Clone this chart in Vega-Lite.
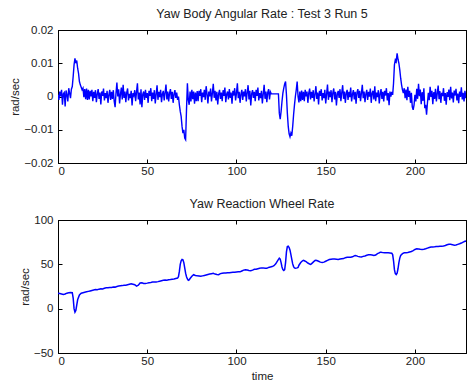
{
"$schema": "https://vega.github.io/schema/vega-lite/v6.json",
"background": "white",
"padding": {"left": 9, "top": 7, "right": 0, "bottom": 0},
"spacing": 20,
"config": {
  "view": {"stroke": "black", "strokeWidth": 1},
  "font": "Liberation Sans",
  "axis": {"grid": false, "domainColor": "black", "domainWidth": 1, "tickColor": "black", "tickSize": -4, "tickWidth": 1, "labelFont": "Liberation Sans", "labelFontSize": 11.5, "labelColor": "#222", "titleFont": "Liberation Sans", "titleFontSize": 11.5, "titleFontWeight": "normal", "titleColor": "#222", "titlePadding": 3},
  "axisY": {"labelPadding": 9},
  "axisX": {"labelPadding": 6},
  "title": {"font": "Liberation Sans", "fontSize": 12.5, "fontWeight": "normal", "color": "#222", "offset": 4}
},
"datasets": {
"body": [
{"t":0,"v":0.0005},{"t":0.5,"v":-0.001},{"t":1,"v":0.0015},{"t":1.5,"v":0},{"t":2,"v":0.002},{"t":2.5,"v":-0.0025},{"t":3,"v":0.0008},{"t":3.5,"v":0.0012},{"t":4,"v":-0.003},{"t":4.5,"v":0.0018},{"t":5,"v":0.0005},{"t":5.5,"v":-0.0015},{"t":6,"v":0.0025},{"t":6.5,"v":0.001},{"t":7,"v":-0.0005},{"t":7.5,"v":0.0022},{"t":8,"v":0.003},
{"t":8.5,"v":0.006},{"t":9,"v":0.0095},{"t":9.5,"v":0.0115},{"t":10,"v":0.01},{"t":10.5,"v":0.0108},{"t":11,"v":0.0085},{"t":11.5,"v":0.007},{"t":12,"v":0.0045},{"t":12.5,"v":0.0035},{"t":13,"v":0.0028},{"t":13.5,"v":0.002},{"t":14,"v":0.0025},{"t":14.5,"v":-0.0002},{"t":15,"v":0.0022},{"t":15.5,"v":-0.0008},{"t":16,"v":0.0024},{"t":16.5,"v":-0.001},{"t":17,"v":0.002},
{"t":17.5,"v":-0.0009},{"t":18,"v":0.0017},{"t":18.5,"v":0},{"t":19,"v":0.002},{"t":19.5,"v":-0.0014},{"t":20,"v":0.0014},{"t":20.5,"v":-0.0004},{"t":21,"v":0.0019},{"t":21.5,"v":-0.0017},{"t":22,"v":0.0007},{"t":22.5,"v":0.0022},{"t":23,"v":-0.0007},{"t":23.5,"v":0.0012},{"t":24,"v":-0.0024},{"t":24.5,"v":0.0015},{"t":25,"v":0.0002},{"t":25.5,"v":0.0024},{"t":26,"v":-0.0012},{"t":26.5,"v":0.001},{"t":27,"v":-0.0005},{"t":27.5,"v":0.0017},{"t":28,"v":-0.0019},{"t":28.5,"v":0.0005},{"t":29,"v":0.002},{"t":29.5,"v":-0.001},{"t":30,"v":0.0014},{"t":30.5,"v":-0.0007},{"t":31,"v":0.0019},{"t":31.5,"v":-0.0015},{"t":32,"v":-0.0032},{"t":32.5,"v":0.001},{"t":33,"v":0.0042},{"t":33.5,"v":0},{"t":34,"v":0.0022},{"t":34.5,"v":-0.0021},{"t":35,"v":0.0007},{"t":35.5,"v":0.0027},{"t":36,"v":-0.0009},{"t":36.5,"v":0.0035},{"t":37,"v":-0.0004},{"t":37.5,"v":0.0015},{"t":38,"v":-0.0017},{"t":38.5,"v":0.0012},{"t":39,"v":0.0024},{"t":39.5,"v":-0.0012},{"t":40,"v":0.0008},{"t":40.5,"v":-0.0005},{"t":41,"v":0.0017},{"t":41.5,"v":-0.0027},{"t":42,"v":0.001},{"t":42.5,"v":0.0003},{"t":43,"v":0.0019},{"t":43.5,"v":-0.0014},{"t":44,"v":0.0014},{"t":44.5,"v":0.004},{"t":45,"v":-0.0009},{"t":45.5,"v":0.0012},{"t":46,"v":-0.0024},{"t":46.5,"v":0.0022},{"t":47,"v":-0.0032},{"t":47.5,"v":0.0007},{"t":48,"v":0.0015},{"t":48.5,"v":-0.001},{"t":49,"v":0.002},{"t":49.5,"v":-0.0004},{"t":50,"v":0.001},{"t":50.5,"v":-0.0019},{"t":51,"v":0.0017},{"t":51.5,"v":0.0002},{"t":52,"v":0.0025},{"t":52.5,"v":-0.0014},{"t":53,"v":0.0012},{"t":53.5,"v":-0.0007},{"t":54,"v":0.0019},{"t":54.5,"v":-0.0021},{"t":55,"v":0.0007},{"t":55.5,"v":0.0034},{"t":56,"v":-0.001},{"t":56.5,"v":0.0014},{"t":57,"v":-0.0002},{"t":57.5,"v":0.002},{"t":58,"v":-0.0017},{"t":58.5,"v":0.0008},{"t":59,"v":0.0017},{"t":59.5,"v":-0.0012},{"t":60,"v":0.0012},{"t":60.5,"v":0.0036},{"t":61,"v":-0.0009},{"t":61.5,"v":0.0015},{"t":62,"v":-0.0015},{"t":62.5,"v":0.001},{"t":63,"v":0.0022},{"t":63.5,"v":-0.0007},{"t":64,"v":0.0014},{"t":64.5,"v":-0.0019},{"t":65,"v":0.0007},{"t":65.5,"v":0.0019},{"t":66,"v":-0.0004},{"t":66.5,"v":0.0012},{"t":67,"v":-0.001},
{"t":67.5,"v":0},{"t":68,"v":-0.0025},{"t":68.5,"v":-0.0045},{"t":69,"v":-0.006},{"t":69.5,"v":-0.009},{"t":70,"v":-0.011},{"t":70.5,"v":-0.01},{"t":71,"v":-0.0125},{"t":71.5,"v":-0.013},{"t":72,"v":-0.004},{"t":72.5,"v":0.004},{"t":73,"v":-0.001},{"t":73.5,"v":-0.0025},{"t":74,"v":0.0015},{"t":74.5,"v":-0.0015},{"t":75,"v":0.002},{"t":75.5,"v":-0.0008},{"t":76,"v":0.0015},{"t":76.5,"v":-0.0022},{"t":77,"v":0.0012},{"t":77.5,"v":-0.0014},{"t":78,"v":0.0016},
{"t":78.5,"v":-0.0014},{"t":79,"v":0.0017},{"t":79.5,"v":0.0002},{"t":80,"v":0.0022},{"t":80.5,"v":-0.0017},{"t":81,"v":0.0012},{"t":81.5,"v":-0.0002},{"t":82,"v":0.002},{"t":82.5,"v":-0.001},{"t":83,"v":0.0031},{"t":83.5,"v":0.0007},{"t":84,"v":-0.0021},{"t":84.5,"v":0.0015},{"t":85,"v":0},{"t":85.5,"v":0.0024},{"t":86,"v":-0.0015},{"t":86.5,"v":0.001},{"t":87,"v":0.0038},{"t":87.5,"v":-0.0004},{"t":88,"v":0.0017},{"t":88.5,"v":-0.0012},{"t":89,"v":0.0014},{"t":89.5,"v":-0.0024},{"t":90,"v":0.0008},{"t":90.5,"v":0.002},{"t":91,"v":-0.0007},{"t":91.5,"v":0.0012},{"t":92,"v":-0.0014},{"t":92.5,"v":0.0019},{"t":93,"v":0.0002},{"t":93.5,"v":0.0027},{"t":94,"v":-0.0017},{"t":94.5,"v":0.0007},{"t":95,"v":0.0015},{"t":95.5,"v":-0.0009},{"t":96,"v":0.0022},{"t":96.5,"v":-0.0004},{"t":97,"v":0.0012},{"t":97.5,"v":-0.0022},{"t":98,"v":0.0017},{"t":98.5,"v":0.0003},{"t":99,"v":0.0025},{"t":99.5,"v":-0.0012},{"t":100,"v":0.001},{"t":100.5,"v":0.004},{"t":101,"v":-0.0005},{"t":101.5,"v":0.0014},{"t":102,"v":-0.0019},{"t":102.5,"v":0.0007},{"t":103,"v":0.002},{"t":103.5,"v":-0.001},{"t":104,"v":0.0015},{"t":104.5,"v":0},{"t":105,"v":0.0022},{"t":105.5,"v":-0.0015},{"t":106,"v":0.0012},{"t":106.5,"v":0.0034},{"t":107,"v":-0.0009},{"t":107.5,"v":0.0017},{"t":108,"v":-0.0027},{"t":108.5,"v":0.0008},{"t":109,"v":0.0019},{"t":109.5,"v":-0.0004},{"t":110,"v":0.0014},{"t":110.5,"v":-0.0014},{"t":111,"v":0.002},{"t":111.5,"v":0.0002},{"t":112,"v":0.0027},{"t":112.5,"v":-0.0012},{"t":113,"v":0.001},{"t":113.5,"v":-0.0005},{"t":114,"v":0.0017},{"t":114.5,"v":-0.0021},{"t":115,"v":0.0008},{"t":115.5,"v":0.0035},{"t":116,"v":-0.0007},{"t":116.5,"v":0.0015},{"t":117,"v":-0.0017},{"t":117.5,"v":0.0012},{"t":118,"v":0.0022},{"t":118.5,"v":-0.0009},{"t":119,"v":0.0014},{"t":119.5,"v":0.0008},{"t":123.5,"v":0.0008},
{"t":124,"v":-0.005},{"t":124.5,"v":-0.0068},{"t":125,"v":-0.0045},{"t":125.5,"v":-0.0015},{"t":126,"v":0.001},{"t":126.5,"v":0.0025},{"t":127,"v":0.0038},{"t":127.5,"v":0.0045},{"t":128,"v":0.0005},{"t":128.5,"v":-0.005},{"t":129,"v":-0.009},{"t":129.5,"v":-0.0112},{"t":130,"v":-0.0121},{"t":130.5,"v":-0.011},{"t":131,"v":-0.0118},{"t":131.5,"v":-0.009},{"t":132,"v":-0.0055},{"t":132.5,"v":-0.0025},{"t":133,"v":0},{"t":133.5,"v":0.002},{"t":134,"v":0.0045},{"t":134.5,"v":0},{"t":135,"v":-0.0018},{"t":135.5,"v":0.0015},{"t":136,"v":-0.0014},{"t":136.5,"v":0.0018},{"t":137,"v":-0.001},{"t":137.5,"v":0.0014},
{"t":138,"v":-0.0014},{"t":138.5,"v":0.002},{"t":139,"v":0},{"t":139.5,"v":0.0015},{"t":140,"v":-0.0019},{"t":140.5,"v":0.001},{"t":141,"v":0.0024},{"t":141.5,"v":-0.0009},{"t":142,"v":0.0014},{"t":142.5,"v":-0.0004},{"t":143,"v":0.0019},{"t":143.5,"v":-0.0015},{"t":144,"v":0.0007},{"t":144.5,"v":0.0031},{"t":145,"v":-0.0007},{"t":145.5,"v":0.0012},{"t":146,"v":-0.0024},{"t":146.5,"v":0.0017},{"t":147,"v":0.0002},{"t":147.5,"v":0.0022},{"t":148,"v":-0.0012},{"t":148.5,"v":0.001},{"t":149,"v":-0.0005},{"t":149.5,"v":0.002},{"t":150,"v":-0.0021},{"t":150.5,"v":0.0008},{"t":151,"v":0.0036},{"t":151.5,"v":-0.001},{"t":152,"v":0.0015},{"t":152.5,"v":-0.0002},{"t":153,"v":0.0019},{"t":153.5,"v":-0.0017},{"t":154,"v":0.0012},{"t":154.5,"v":0.0024},{"t":155,"v":-0.0009},{"t":155.5,"v":0.0014},{"t":156,"v":-0.0027},{"t":156.5,"v":0.0008},{"t":157,"v":0.0017},{"t":157.5,"v":-0.0004},{"t":158,"v":0.0022},{"t":158.5,"v":-0.0014},{"t":159,"v":0.0012},{"t":159.5,"v":0.0034},{"t":160,"v":-0.0007},{"t":160.5,"v":0.0015},{"t":161,"v":-0.0019},{"t":161.5,"v":0.001},{"t":162,"v":0.002},{"t":162.5,"v":-0.001},{"t":163,"v":0.0014},{"t":163.5,"v":-0.0002},{"t":164,"v":0.0027},{"t":164.5,"v":-0.0015},{"t":165,"v":0.0007},{"t":165.5,"v":0.0019},{"t":166,"v":-0.0009},{"t":166.5,"v":0.0014},{"t":167,"v":-0.0022},{"t":167.5,"v":0.0012},{"t":168,"v":0.0022},{"t":168.5,"v":-0.0004},{"t":169,"v":0.0017},{"t":169.5,"v":-0.0014},{"t":170,"v":0.001},{"t":170.5,"v":0.0035},{"t":171,"v":-0.0005},{"t":171.5,"v":0.0015},{"t":172,"v":-0.0017},{"t":172.5,"v":0.0008},{"t":173,"v":0.002},{"t":173.5,"v":-0.001},{"t":174,"v":0.0014},{"t":174.5,"v":0},{"t":175,"v":0.0024},{"t":175.5,"v":-0.0019},{"t":176,"v":0.001},{"t":176.5,"v":0.0017},{"t":177,"v":-0.0009},{"t":177.5,"v":0.0031},{"t":178,"v":-0.0014},{"t":178.5,"v":0.0012},{"t":179,"v":-0.0002},{"t":179.5,"v":0.0019},{"t":180,"v":-0.0021},{"t":180.5,"v":0.0008},{"t":181,"v":0.0022},{"t":181.5,"v":-0.0007},{"t":182,"v":0.0014},{"t":182.5,"v":-0.0015},{"t":183,"v":0.0017},{"t":183.5,"v":0.0003},{"t":184,"v":0.0025},{"t":184.5,"v":-0.0012},{"t":185,"v":0.001},{"t":185.5,"v":-0.0026},{"t":186,"v":0.0015},{"t":186.5,"v":0},{"t":187,"v":0.0014},
{"t":187.5,"v":0.0005},{"t":188,"v":0.004},{"t":188.5,"v":0.0095},{"t":189,"v":0.011},{"t":189.5,"v":0.0105},{"t":190,"v":0.013},{"t":190.5,"v":0.0112},{"t":191,"v":0.01},{"t":191.5,"v":0.008},{"t":192,"v":0.0055},{"t":192.5,"v":0.0035},{"t":193,"v":0.002},{"t":193.5,"v":0.001},{"t":194,"v":0.0025},{"t":194.5,"v":-0.0005},
{"t":195,"v":0.0021},{"t":195.5,"v":-0.0011},{"t":196,"v":0.0029},{"t":196.5,"v":-0.0001},{"t":197,"v":0.0017},{"t":197.5,"v":-0.0019},{"t":198,"v":0.0011},{"t":198.5,"v":-0.0031},{"t":199,"v":-0.004},{"t":199.5,"v":-0.0025},{"t":200,"v":0.0005},{"t":200.5,"v":-0.0015},{"t":201,"v":0.0023},{"t":201.5,"v":-0.0007},{"t":202,"v":0.0038},{"t":202.5,"v":0.0001},{"t":203,"v":0.0021},{"t":203.5,"v":-0.0023},{"t":204,"v":0.0013},{"t":204.5,"v":-0.0013},{"t":205,"v":0.0025},{"t":205.5,"v":-0.0035},{"t":206,"v":-0.0025},{"t":206.5,"v":-0.0055},{"t":207,"v":-0.0019},{"t":207.5,"v":0.0011},{"t":208,"v":-0.0011},{"t":208.5,"v":0.0029},{"t":209,"v":-0.0001},{"t":209.5,"v":0.0017},{"t":210,"v":-0.0023},{"t":210.5,"v":0.0013},{"t":211,"v":-0.0007},{"t":211.5,"v":0.0023},{"t":212,"v":-0.0015},{"t":212.5,"v":0.0009},{"t":213,"v":0.0033},{"t":213.5,"v":-0.0008},{"t":214,"v":0.0016},{"t":214.5,"v":-0.0019},{"t":215,"v":0.0011},{"t":215.5,"v":0.0001},{"t":216,"v":0.0025},{"t":216.5,"v":-0.0013},{"t":217,"v":0.001},{"t":217.5,"v":-0.0025},{"t":218,"v":0.0013},{"t":218.5,"v":-0.0001},{"t":219,"v":0.0021},{"t":219.5,"v":-0.0011},{"t":220,"v":0.0029},{"t":220.5,"v":-0.0006},{"t":221,"v":0.0012},{"t":221.5,"v":-0.0018},{"t":222,"v":0.0018},{"t":222.5,"v":0.0003},{"t":223,"v":0.0023},{"t":223.5,"v":-0.0012},{"t":224,"v":0.0009},{"t":224.5,"v":-0.002},{"t":225,"v":0.0015},{"t":225.5,"v":-0.0001},{"t":226,"v":0.0028},{"t":226.5,"v":-0.0009},{"t":227,"v":0.0011},{"t":227.5,"v":-0.0015},{"t":228,"v":0.0017},{"t":228.5,"v":-0.0005},{"t":229,"v":0.0013},{"t":229.5,"v":-0.0013},{"t":230,"v":0.0006}
],
"wheel": [
{"t":0,"v":17.5},{"t":1,"v":17},{"t":2,"v":16.5},{"t":3,"v":16},{"t":4,"v":16.5},{"t":5,"v":17.5},{"t":6,"v":18},{"t":7,"v":18.2},{"t":8,"v":18},{"t":8.5,"v":12},{"t":9,"v":0},{"t":9.5,"v":-4},{"t":10,"v":-2},{"t":10.5,"v":4},{"t":11,"v":10},{"t":12,"v":15.5},{"t":13,"v":17.5},{"t":14,"v":18},{"t":15,"v":18.5},{"t":16,"v":19},{"t":17,"v":19.5},{"t":18,"v":20},{"t":19,"v":20.5},{"t":20,"v":21},{"t":21,"v":21.5},{"t":22,"v":21.3},{"t":23,"v":22},{"t":24,"v":22.5},{"t":25,"v":22.2},{"t":26,"v":23},{"t":27,"v":23.5},{"t":28,"v":23.5},{"t":29,"v":23.8},{"t":30,"v":24},{"t":31,"v":24.5},{"t":32,"v":24.3},{"t":33,"v":25},{"t":34,"v":25.5},{"t":35,"v":25.8},{"t":36,"v":26},{"t":37,"v":26.5},{"t":38,"v":26.5},{"t":39,"v":27},{"t":40,"v":27.5},{"t":41,"v":28},{"t":42,"v":27.5},{"t":43,"v":27},{"t":44,"v":25.5},{"t":45,"v":26.5},{"t":46,"v":29},{"t":47,"v":29.3},{"t":48,"v":28.5},{"t":49,"v":28.5},{"t":50,"v":28.8},{"t":51,"v":29.3},{"t":52,"v":29.5},{"t":53,"v":30},{"t":54,"v":30.2},{"t":55,"v":30.2},{"t":56,"v":30.5},{"t":57,"v":31},{"t":58,"v":31.5},{"t":59,"v":32},{"t":60,"v":32.3},{"t":61,"v":32},{"t":62,"v":32.5},{"t":63,"v":32.8},{"t":64,"v":33.2},{"t":65,"v":33.5},{"t":66,"v":34},{"t":67,"v":34.5},{"t":67.5,"v":36},{"t":68,"v":42},{"t":68.5,"v":50},{"t":69,"v":54},{"t":69.5,"v":55.5},{"t":70,"v":55},{"t":70.5,"v":52},{"t":71,"v":46},{"t":71.5,"v":40},{"t":72,"v":36},{"t":72.5,"v":33.5},{"t":73,"v":32},{"t":73.5,"v":32.5},{"t":74,"v":34},{"t":75,"v":36.5},{"t":76,"v":38.3},{"t":77,"v":37.5},{"t":78,"v":37},{"t":79,"v":36.8},{"t":80,"v":36.5},{"t":81,"v":37},{"t":82,"v":37.5},{"t":83,"v":38},{"t":84,"v":38.5},{"t":85,"v":39},{"t":86,"v":39.4},{"t":87,"v":39.8},{"t":88,"v":39},{"t":89,"v":38.5},{"t":90,"v":38.3},{"t":91,"v":39.5},{"t":92,"v":40},{"t":93,"v":40.2},{"t":94,"v":40.2},{"t":95,"v":40.5},{"t":96,"v":40.5},{"t":97,"v":40.8},{"t":98,"v":41},{"t":99,"v":41},{"t":100,"v":41.3},{"t":101,"v":41.5},{"t":102,"v":41.5},{"t":103,"v":42.5},{"t":104,"v":43.5},{"t":105,"v":43.9},{"t":106,"v":43.5},{"t":107,"v":43},{"t":108,"v":42.7},{"t":109,"v":43.5},{"t":110,"v":44.4},{"t":111,"v":44.5},{"t":112,"v":45},{"t":113,"v":45.5},{"t":114,"v":46},{"t":115,"v":46},{"t":116,"v":45.5},{"t":117,"v":45.5},{"t":118,"v":46.5},{"t":119,"v":47},{"t":120,"v":47.5},{"t":121,"v":48.5},{"t":122,"v":50.5},{"t":123,"v":54},{"t":124,"v":57},{"t":124.5,"v":56},{"t":125,"v":52},{"t":125.5,"v":47},{"t":126,"v":44},{"t":126.5,"v":43},{"t":127,"v":44},{"t":127.5,"v":52},{"t":128,"v":64},{"t":128.5,"v":70},{"t":129,"v":70.5},{"t":129.5,"v":69},{"t":130,"v":66},{"t":130.5,"v":61},{"t":131,"v":55.5},{"t":131.5,"v":50.5},{"t":132,"v":47.5},{"t":132.5,"v":46},{"t":133,"v":45.5},{"t":134,"v":46},{"t":134.5,"v":46.5},{"t":135,"v":49},{"t":136,"v":52},{"t":137,"v":54},{"t":137.5,"v":54.5},{"t":138,"v":54},{"t":139,"v":53},{"t":140,"v":51.5},{"t":141,"v":50.3},{"t":141.5,"v":50},{"t":142,"v":50.5},{"t":143,"v":52.5},{"t":144,"v":54.3},{"t":144.5,"v":54.5},{"t":145,"v":54.3},{"t":146,"v":53.5},{"t":147,"v":52.5},{"t":148,"v":52},{"t":149,"v":52.5},{"t":150,"v":53.5},{"t":151,"v":54.5},{"t":152,"v":55.5},{"t":153,"v":55.8},{"t":154,"v":56},{"t":155,"v":56},{"t":156,"v":55.8},{"t":157,"v":55.5},{"t":158,"v":56},{"t":159,"v":56.3},{"t":160,"v":56.5},{"t":161,"v":57.5},{"t":162,"v":58},{"t":163,"v":58},{"t":164,"v":58},{"t":165,"v":58.5},{"t":166,"v":59.5},{"t":166.5,"v":60},{"t":167,"v":59.8},{"t":168,"v":59},{"t":169,"v":58.5},{"t":170,"v":58.3},{"t":171,"v":59},{"t":172,"v":59.5},{"t":173,"v":60.3},{"t":174,"v":60.8},{"t":175,"v":60.7},{"t":176,"v":60.5},{"t":177,"v":60},{"t":178,"v":60.5},{"t":179,"v":62},{"t":180,"v":63},{"t":180.5,"v":63.5},{"t":181,"v":63.5},{"t":182,"v":63.2},{"t":183,"v":63},{"t":184,"v":63},{"t":185,"v":63},{"t":186,"v":62.8},{"t":187,"v":62.5},{"t":187.5,"v":61},{"t":188,"v":54},{"t":188.5,"v":44},{"t":189,"v":39.5},{"t":189.5,"v":38.5},{"t":190,"v":40},{"t":190.5,"v":45},{"t":191,"v":52},{"t":191.5,"v":57},{"t":192,"v":60},{"t":193,"v":62},{"t":194,"v":63},{"t":195,"v":63},{"t":196,"v":63.3},{"t":197,"v":64},{"t":198,"v":64.5},{"t":199,"v":65.5},{"t":200,"v":66.8},{"t":201,"v":67.5},{"t":202,"v":67.3},{"t":203,"v":67},{"t":204,"v":66.8},{"t":205,"v":67},{"t":206,"v":67.5},{"t":207,"v":68.3},{"t":208,"v":69},{"t":209,"v":69.5},{"t":210,"v":69.5},{"t":211,"v":69.7},{"t":212,"v":70},{"t":213,"v":70.2},{"t":214,"v":70.4},{"t":215,"v":70.5},{"t":216,"v":70.6},{"t":217,"v":71.2},{"t":218,"v":72},{"t":219,"v":72.6},{"t":220,"v":72.6},{"t":221,"v":72.2},{"t":222,"v":71.6},{"t":223,"v":71.8},{"t":224,"v":72.5},{"t":225,"v":73.2},{"t":226,"v":74},{"t":227,"v":75},{"t":228,"v":76},{"t":229,"v":76.3},{"t":230,"v":76.5}
]
},
"vconcat": [
{
  "title": {"text": "Yaw Body Angular Rate : Test 3 Run 5"},
  "width": 408, "height": 133,
  "data": {"name": "body"},
  "layer": [
    {"mark": {"type": "line", "color": "#0000ff", "strokeWidth": 1.4, "clip": true},
     "encoding": {
       "x": {"field": "t", "type": "quantitative", "scale": {"domain": [0, 228.6], "nice": false, "zero": false}, "axis": {"orient": "bottom", "values": [0, 50, 100, 150, 200], "title": null}},
       "y": {"field": "v", "type": "quantitative", "scale": {"domain": [-0.02, 0.02], "nice": false, "zero": false}, "axis": {"orient": "left", "values": [-0.02, -0.01, 0, 0.01, 0.02], "format": "~r", "title": "rad/sec"}}
     }},
    {"mark": {"type": "line", "opacity": 0, "clip": true},
     "encoding": {
       "x": {"field": "t", "type": "quantitative", "scale": {"domain": [0, 228.6], "nice": false, "zero": false}, "axis": {"orient": "top", "values": [0, 50, 100, 150, 200], "labels": false, "title": null}},
       "y": {"field": "v", "type": "quantitative", "scale": {"domain": [-0.02, 0.02], "nice": false, "zero": false}, "axis": {"orient": "right", "values": [-0.02, -0.01, 0, 0.01, 0.02], "labels": false, "title": null}}
     }}
  ],
  "resolve": {"axis": {"x": "independent", "y": "independent"}}
},
{
  "title": {"text": "Yaw Reaction Wheel Rate"},
  "width": 408, "height": 133,
  "data": {"name": "wheel"},
  "layer": [
    {"mark": {"type": "line", "color": "#0000ff", "strokeWidth": 1.5, "clip": true},
     "encoding": {
       "x": {"field": "t", "type": "quantitative", "scale": {"domain": [0, 228.6], "nice": false, "zero": false}, "axis": {"orient": "bottom", "values": [0, 50, 100, 150, 200], "title": "time", "titlePadding": 4}},
       "y": {"field": "v", "type": "quantitative", "scale": {"domain": [-50, 100], "nice": false, "zero": false}, "axis": {"orient": "left", "values": [-50, 0, 50, 100], "format": "~r", "title": "rad/sec"}}
     }},
    {"mark": {"type": "line", "opacity": 0, "clip": true},
     "encoding": {
       "x": {"field": "t", "type": "quantitative", "scale": {"domain": [0, 228.6], "nice": false, "zero": false}, "axis": {"orient": "top", "values": [0, 50, 100, 150, 200], "labels": false, "title": null}},
       "y": {"field": "v", "type": "quantitative", "scale": {"domain": [-50, 100], "nice": false, "zero": false}, "axis": {"orient": "right", "values": [-50, 0, 50, 100], "labels": false, "title": null}}
     }}
  ],
  "resolve": {"axis": {"x": "independent", "y": "independent"}}
}
]
}
